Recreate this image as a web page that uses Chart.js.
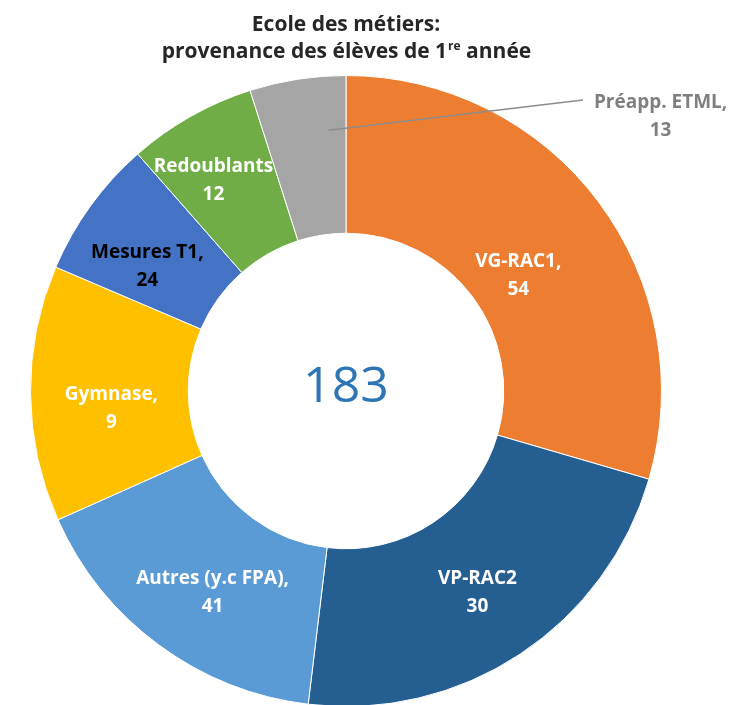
<!DOCTYPE html>
<html>
<head>
<meta charset="utf-8">
<script src="https://cdn.jsdelivr.net/npm/chart.js@4.4.1/dist/chart.umd.min.js"></script>
<style>
  html, body { margin: 0; padding: 0; background: #fff; overflow: hidden; }
  #wrap { position: relative; width: 751px; height: 710px; }
</style>
</head>
<body>
<div id="wrap"><canvas id="chart"></canvas></div>
<script>
// slice sizes (clockwise from top)
const categories = ["VG-RAC1", "VP-RAC2", "Autres (y.c FPA)", "Gymnase", "Mesures T1", "Redoublants", "Préapp. ETML"];
const values = [54, 41, 30, 24, 13, 12, 9];
// numbers as printed in the data labels
const labelNumbers = [54, 30, 41, 9, 24, 12, 13];
const labelNames = ["VG-RAC1,", "VP-RAC2", "Autres (y.c FPA),", "Gymnase,", "Mesures T1,", "Redoublants", "Préapp. ETML,"];
const colors = ["#ED7D31", "#255E91", "#5B9BD5", "#FFC000", "#4472C4", "#70AD47", "#A5A5A5"];
const total = 183;

// label nudges relative to the slice centre
const labelNudge = [[-17, 27], [1, 4], [7, 11], [2, 16], [-7, 14], [-16, -4], [351, -41]];
const labelColors = ["#fff", "#fff", "#fff", "#fff", "#000", "#fff", "#7F7F7F"];
const FONT = "'Open Sans', sans-serif";

// title, data labels and centre total
const overlay = {
  id: "overlay",
  afterDatasetsDraw(chart) {
    const ctx = chart.ctx;
    const meta = chart.getDatasetMeta(0);
    ctx.save();

    // title
    ctx.fillStyle = "#262626";
    ctx.textBaseline = "alphabetic";
    ctx.textAlign = "left";
    ctx.font = "bold 21px " + FONT;
    const t1 = "Ecole des métiers:";
    ctx.fillText(t1, 346 - ctx.measureText(t1).width / 2, 31);
    const a = "provenance des élèves de 1", b = "re", c = " année";
    const wa = ctx.measureText(a).width, wc = ctx.measureText(c).width;
    ctx.font = "bold 12px " + FONT;
    const wb = ctx.measureText(b).width;
    let x = 346 - (wa + wb + wc) / 2;
    ctx.font = "bold 21px " + FONT;
    ctx.fillText(a, x, 58);
    ctx.font = "bold 12px " + FONT;
    ctx.fillText(b, x + wa + 1, 50);
    ctx.font = "bold 21px " + FONT;
    ctx.fillText(c, x + wa + wb + 1, 58);

    // leader line for the small grey slice
    const g = meta.data[6].tooltipPosition();
    ctx.strokeStyle = "#8C8C8C";
    ctx.lineWidth = 1.5;
    ctx.beginPath();
    ctx.moveTo(g.x + 19, g.y - 27);
    ctx.lineTo(583, 100);
    ctx.stroke();

    // data labels
    ctx.textAlign = "center";
    ctx.textBaseline = "middle";
    ctx.font = "bold 19px " + FONT;
    meta.data.forEach((arc, i) => {
      const p = arc.tooltipPosition();
      const lx = p.x + labelNudge[i][0];
      const ly = p.y + labelNudge[i][1];
      ctx.fillStyle = labelColors[i];
      ctx.fillText(labelNames[i], lx, ly - 14);
      ctx.fillText(String(labelNumbers[i]), lx, ly + 14);
    });

    // total in the hole
    ctx.fillStyle = "#2E75B6";
    ctx.font = "50px " + FONT;
    ctx.fillText(String(total), meta.data[0].x, meta.data[0].y - 3);
    ctx.restore();
  }
};

new Chart(document.getElementById("chart"), {
  type: "doughnut",
  data: {
    labels: categories,
    datasets: [{
      data: values,
      backgroundColor: colors,
      borderColor: "#fff",
      borderWidth: 1,
      hoverBorderWidth: 1,
      hoverOffset: 0
    }]
  },
  options: {
    responsive: true,
    maintainAspectRatio: false,
    animation: false,
    cutout: "50%",
    layout: { padding: { left: 30, right: 89, top: 75, bottom: 3 } },
    plugins: {
      legend: { display: false },
      tooltip: { enabled: false },
      title: { display: false }
    }
  },
  plugins: [overlay]
});
</script>
</body>
</html>
